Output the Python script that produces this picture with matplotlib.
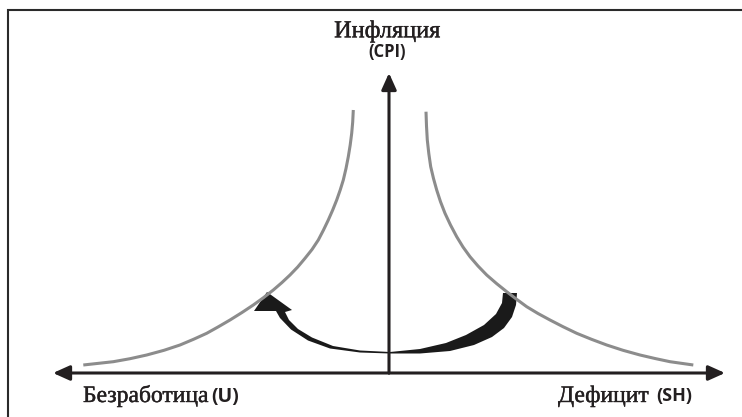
import numpy as np
import matplotlib.pyplot as plt
import matplotlib.patheffects as pe
from matplotlib.patches import Polygon

# curves: x from the vertical axis, y above the horizontal axis (px)
left_x = [-35.7, -36.3, -37.3, -38.8, -40.7, -43, -45.7, -48.8, -52.3, -56.3, -60.7,
          -65.5, -70.7, -77, -84, -91.3, -99, -107, -115.7, -125.3, -135.7,
          -147, -159, -170.5, -182.3, -195.5, -209, -225, -242.3, -259, -275.7, -305.7]
left_y = [263, 251, 239.7, 228, 216.3, 204.5, 193, 183, 173, 163, 153,
          143, 133, 123.5, 114.7, 106, 98, 90.5, 83, 75.5, 68,
          60.5, 53, 46.3, 39.7, 33.7, 28, 22.7, 18, 14.3, 11.3, 8]
right_x = [37, 37.5, 38.3, 39.8, 41.7, 44.5, 47.7, 51.5, 56, 61.5, 67.7,
           74, 81, 89, 97.7, 107.5, 117.7, 127.5, 137.7, 149, 161,
           174, 187.7, 202.5, 217.7, 234, 251, 266, 281, 304.3]
right_y = [261.3, 247, 233, 219.5, 206.3, 194.5, 183, 171.3, 159.7, 148, 136.3,
           126, 116.3, 107, 98, 89.5, 81.3, 73.8, 66.3, 59.5, 53,
           46.3, 39.7, 33.7, 28, 22.7, 18, 14.5, 11.3, 8]

# outline of the curved black arrow (tapered swoosh)
swoosh_x = [1, -29, -59, -81, -98, -109, -113, -135, -122, -97, -104, -100, -91,
            -77, -56, -29, 1, 31, 57, 77, 95, 107, 113, 114, 128, 127, 123, 115,
            103, 85, 61, 31]
swoosh_y = [19.5, 20.5, 24.5, 32.5, 43.5, 55, 62, 62, 81, 63, 61, 53, 44,
            35.5, 27, 22.5, 21, 24, 30, 38, 48, 59, 70, 80, 80, 68, 56, 45,
            36, 28, 22, 19.5]

title_y = 'Инфляция'
sub_y = '(CPI)'
label_left = 'Безработица'
sub_left = '(U)'
label_right = 'Дефицит'
sub_right = '(SH)'

ink = '#231f20'
gray = '#8c8c8c'
serif = ['Liberation Serif', 'DejaVu Serif']
sans = ['Open Sans', 'DejaVu Sans']
heavy = [pe.withStroke(linewidth=0.3, foreground=ink)]

fig = plt.figure(figsize=(7.42, 4.17), dpi=100)
ax = fig.add_axes([0, 0, 1, 1])
ax.set_xlim(-389, 353)
ax.set_ylim(-44, 373)
ax.axis('off')

# frame (top and left edges only)
ax.plot([-381, -381, 353], [-44, 363.5, 363.5], color='#2a2a2a', lw=1.5,
        solid_capstyle='butt', solid_joinstyle='miter')

# curves
ax.plot(left_x, left_y, color=gray, lw=2.2, solid_capstyle='butt')
ax.plot(right_x, right_y, color=gray, lw=2.2, solid_capstyle='butt')

# axes arrows
arrow = dict(arrowstyle='-|>,head_length=1.0,head_width=0.45', color=ink, lw=2.2,
             shrinkA=0, shrinkB=0)
ax.annotate('', xy=(-336, 0), xytext=(0, 0), arrowprops=arrow)
ax.annotate('', xy=(336, 0), xytext=(0, 0), arrowprops=arrow)
ax.annotate('', xy=(0, 300), xytext=(0, 0), arrowprops=arrow)

# swoosh arrow
ax.add_patch(Polygon(np.column_stack([swoosh_x, swoosh_y]), closed=True,
                     facecolor='#1a1a1a', edgecolor='none'))

# labels
ax.text(-2, 335.7, title_y, ha='center', va='baseline', fontsize=17.5,
        family=serif, color=ink, path_effects=heavy)
ax.text(-1.5, 321.5, sub_y, ha='center', va='center', fontsize=12,
        family=sans, color=ink, fontweight='bold')
ax.text(-306, -29, label_left, ha='left', va='baseline', fontsize=17,
        family=serif, color=ink, path_effects=heavy)
ax.text(-178, -24, sub_left, ha='left', va='center', fontsize=14,
        family=sans, color=ink, fontweight='bold')
ax.text(169, -29, label_right, ha='left', va='baseline', fontsize=17,
        family=serif, color=ink, path_effects=heavy)
ax.text(267, -23.5, sub_right, ha='left', va='center', fontsize=13,
        family=sans, color=ink, fontweight='bold')

plt.savefig('out.png', dpi=100)
